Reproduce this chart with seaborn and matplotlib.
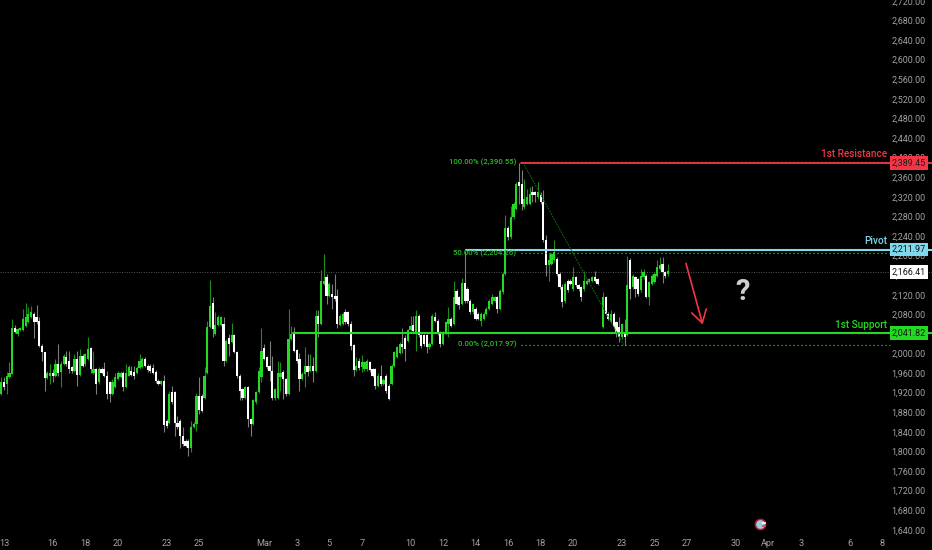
import numpy as np
import matplotlib
matplotlib.use("Agg")
import matplotlib.pyplot as plt
import seaborn as sns

# 4h candles, one nan bar where the chart has a hole
opens = [1917,1941,1938,1951,1958,2053,2040,2047,2047,2057,
         2064,2074,2081,2074,2067,2016,2002,1950,1953,1961,
         1953,1978,1963,1978,1993,1985,1972,1965,1989,1957,
         1995,1978,1989,2011,1961,1968,1941,1968,1968,1955,
         1941,1917,1931,1948,1951,1961,1931,1955,1965,1963,
         1961,1970,1972,1989,1975,1975,1970,1963,1944,1938,
         1944,1863,1859,1921,1921,1859,1863,1832,1822,1822,
         1808,1849,1856,1914,1914,1910,1961,2055,2104,2040,
         2059,2059,2060,1985,2032,2023,2038,2002,1955,1927,
         1910,1931,1866,1856,1900,1921,1951,2012,1992,1975,
         1965,1909,1910,1951,1963,1948,1917,2030,2040,2007,
         1989,1948,1958,1975,1965,1975,1965,2077,2060,2142,
         2156,2118,2122,2118,2118,2059,2060,2084,2084,2060,
         2018,1966,1985,1972,1968,1968,1982,1968,1968,1934,
         1955,1938,1955,1934,1938,1975,1992,2000,2020,2032,
         2026,2047,2059,2043,2077,2037,2037,2037,2013,2020,
         2074,2067,2043,2020,2043,2060,2071,2060,2128,2115,
         2101,2143,2132,2108,2084,2091,2081,2067,2071,2081,
         2091,2101,2108,2115,2091,2125,2163,2257,2237,2278,
         2295,2350,2346,2299,2306,2306,2329,2329,2319,2323,
         2309,2231,2180,2183,2190,2193,2163,2135,2108,2149,
         2149,2132,2156,2139,2135,2132,2142,2146,2149,2156,2152,
         np.nan,
         2054,2115,2081,2064,2081,2064,2054,2033,2040,2037,2190,2135,2156,
         2152,2129,2156,2159,2116,2142,2146,2159,2173,2182,2166,2162]
closes = [1941,1931,1955,1961,2053,2043,2050,2053,2070,2074,
          2081,2084,2064,2064,2016,2002,1950,1961,1961,1955,
          1978,1961,1978,1995,1978,1968,1965,1989,1957,1995,
          1975,1999,2009,1968,1968,1938,1968,1961,1955,1917,
          1917,1941,1951,1961,1961,1931,1961,1972,1957,1955,
          1970,1985,1989,1975,1966,1965,1961,1944,1938,1944,
          1854,1852,1917,1900,1859,1849,1832,1815,1812,1808,
          1849,1856,1914,1885,1883,1955,2055,2096,2050,2059,
          2074,2074,1985,2026,2019,2038,2002,1953,1924,1910,
          1931,1866,1856,1904,1921,1965,2006,1989,1972,1965,
          1909,1927,1961,1961,1948,1917,2030,2040,2006,1985,
          1948,1958,1975,1962,1975,1965,2077,2060,2148,2149,
          2118,2142,2115,2111,2060,2077,2081,2064,2060,2016,
          1966,1975,1970,1982,1982,1985,1966,1955,1934,1955,
          1938,1945,1924,1907,1975,2002,2013,2020,2013,2009,
          2047,2057,2045,2077,2037,2016,2020,2013,2020,2077,
          2067,2040,2020,2043,2064,2071,2057,2115,2101,2098,
          2143,2108,2108,2084,2101,2071,2071,2081,2081,2091,
          2108,2115,2115,2091,2128,2163,2257,2237,2278,2306,
          2346,2343,2306,2316,2319,2326,2323,2323,2329,2309,
          2231,2180,2190,2203,2207,2163,2135,2105,2142,2129,
          2142,2156,2139,2132,2115,2149,2149,2152,2156,2149,2142,
          np.nan,
          2115,2081,2071,2081,2054,2043,2033,2060,2033,2139,2132,2159,2132,
          2122,2159,2166,2116,2146,2159,2163,2176,2180,2166,2159,2169]
highs = [1951,1951,1963,1982,2070,2059,2052,2055,2091,2104,
         2094,2096,2084,2100,2074,2019,2004,1965,1978,1968,
         1989,2019,1985,1999,2006,2006,1975,1999,2006,2009,
         1999,2001,2034,2014,2006,1970,1972,1972,1982,1965,
         1944,1948,1961,1965,1965,1965,1978,1977,1975,1975,
         1975,1998,1992,1992,1978,1978,1978,1966,1947,1946,
         1957,1866,1924,1934,1923,1873,1866,1849,1825,1825,
         1863,1860,1920,1951,1917,1972,2067,2150,2115,2084,
         2078,2077,2075,2030,2040,2062,2040,2005,1958,1930,
         1934,1934,1869,1908,1924,1972,2052,2019,1995,2026,
         1995,1930,1985,1982,1966,1950,2091,2057,2055,2010,
         2000,1962,2013,1998,1998,1992,2089,2089,2171,2203,
         2163,2145,2142,2163,2132,2080,2085,2091,2087,2067,
         2020,1992,1990,1996,1985,1988,1985,1971,1971,1960,
         1977,1950,1958,1937,1978,2005,2016,2023,2052,2037,
         2050,2077,2077,2088,2080,2040,2040,2040,2023,2081,
         2084,2070,2046,2046,2067,2094,2074,2149,2132,2118,
         2154,2210,2136,2111,2104,2094,2084,2084,2084,2094,
         2112,2122,2118,2118,2132,2166,2282,2260,2302,2310,
         2350,2389,2374,2357,2336,2340,2343,2332,2350,2329,
         2333,2241,2203,2206,2232,2196,2166,2142,2145,2152,
         2152,2176,2159,2142,2138,2169,2152,2155,2159,2168,2155,
         np.nan,
         2125,2118,2084,2089,2084,2067,2074,2063,2071,2200,2195,2163,2159,
         2155,2173,2172,2162,2149,2162,2166,2190,2197,2197,2169,2182]
lows = [1916,1925,1917,1949,1958,2041,2036,2045,2045,2055,
        2062,2072,2032,2060,2014,1985,1924,1948,1938,1941,
        1951,1955,1931,1976,1975,1961,1960,1963,1934,1955,
        1972,1975,1987,1960,1958,1917,1938,1958,1952,1907,
        1900,1915,1929,1946,1949,1924,1929,1953,1955,1948,
        1958,1968,1970,1972,1962,1960,1958,1940,1935,1936,
        1839,1848,1857,1896,1832,1846,1808,1812,1809,1791,
        1798,1847,1842,1876,1880,1908,1959,2053,2033,2038,
        2057,2057,1975,1982,1995,2021,2000,1950,1904,1906,
        1908,1849,1832,1853,1897,1919,1941,1986,1969,1944,
        1904,1906,1908,1924,1907,1914,1915,2028,2003,1981,
        1924,1945,1931,1955,1962,1941,1963,2033,2058,2140,
        2101,2116,2091,2108,2052,2056,2058,2061,2056,2007,
        1953,1964,1966,1962,1965,1965,1962,1952,1928,1931,
        1934,1935,1920,1904,1935,1973,1990,1998,2000,1985,
        2023,2045,2042,2005,2034,2012,2016,2000,2010,2018,
        2064,2037,2013,2017,2040,2033,2054,2058,2098,2090,
        2099,2103,2104,2080,2081,2068,2068,2057,2068,2078,
        2088,2098,2105,2082,2088,2122,2160,2232,2234,2275,
        2292,2306,2292,2296,2303,2303,2310,2310,2316,2305,
        2228,2159,2149,2180,2187,2159,2132,2094,2104,2125,
        2139,2128,2136,2128,2108,2128,2139,2143,2146,2146,2139,
        np.nan,
        2052,2078,2068,2062,2051,2033,2023,2030,2018,2035,2112,2132,2115,
        2118,2125,2153,2113,2098,2139,2143,2156,2170,2144,2155,2159]

tick_days = [0,3,5,7,10,12,16,18,20,22,25,27,29,31,33,35,38,40,42,45,47,49,52,54]
tick_names = ["13","16","18","20","23","25","Mar","3","5","7","10","12","14","16",
              "18","20","23","25","27","30","Apr","3","6","8"]
price_ticks = list(range(1640, 2721, 40))

resistance = 2389.45
pivot = 2211.97
support = 2041.82
last_price = 2166.41
fib_prices = [2390.55, 2204.26, 2017.97]
fib_names = ["100.00%", "50.00%", "0.00%"]

GREEN = "#24d924"
DARK_GREEN = "#1c8c1c"
WICK_GREY = "#7d7d7d"
RED = "#f23645"
BLUE = "#7fd8ec"
LABEL = "#a3a3a3"

sns.set_theme(style="dark", rc={"axes.facecolor": "black", "figure.facecolor": "black"})
plt.rcParams["font.family"] = ["Roboto", "DejaVu Sans"]

fig = plt.figure(figsize=(9.32, 5.5), dpi=100)
ax = fig.add_axes([0, 0, 1, 1])

o = np.array(opens, dtype=float)
c = np.array(closes, dtype=float)
h = np.array(highs, dtype=float)
l = np.array(lows, dtype=float)
days = (np.arange(len(o)) - 1) / 6
up = c >= o

ax.vlines(days[up], l[up], h[up], color=DARK_GREEN, lw=0.8, zorder=2)
ax.vlines(days[~up], l[~up], h[~up], color=WICK_GREY, lw=0.8, zorder=2)
ax.bar(days[up], (c - o)[up], bottom=o[up], width=0.135, color=GREEN, lw=0, zorder=3)
ax.bar(days[~up], (o - c)[~up], bottom=c[~up], width=0.135, color="white", lw=0, zorder=3)

# last price dotted line
ax.axhline(last_price, color="#555555", lw=0.7, ls=(0, (1, 1.5)), zorder=1)

# levels
sns.lineplot(x=[17.77, 58], y=[support, support], color=GREEN, lw=1.5, ax=ax, zorder=4)
sns.lineplot(x=[28.4, 58], y=[pivot, pivot], color=BLUE, lw=1.5, ax=ax, zorder=4)
sns.lineplot(x=[31.8, 58], y=[resistance, resistance], color=RED, lw=1.3, ax=ax, zorder=6)

# fib levels and the diagonal
for price, name in zip(fib_prices, fib_names):
    sns.lineplot(x=[31.8, 54.5], y=[price, price], color=GREEN, lw=0.9,
                 ls=(0, (1, 2.2)), ax=ax, zorder=5)
    ax.text(31.5, price, f"{name} ({price:,.2f})", color="#2db82d", fontsize=5.6,
            fontweight="medium", ha="right", va="center", zorder=6)
sns.lineplot(x=[31.9, 38.1], y=[fib_prices[0], fib_prices[2]], color="#146414", lw=0.7,
             ls=(0, (2, 1)), ax=ax, zorder=4)

# level names
ax.text(54.3, resistance + 8, "1st Resistance", color=RED, fontsize=7.2, fontweight="medium",
        ha="right", va="bottom", zorder=6)
ax.text(54.3, pivot + 8, "Pivot", color=BLUE, fontsize=7.2, fontweight="medium",
        ha="right", va="bottom", zorder=6)
ax.text(54.3, support + 7, "1st Support", color=GREEN, fontsize=7.2, fontweight="medium",
        ha="right", va="bottom", zorder=6)

# price tags on the scale
for price, box, txt in [(resistance, RED, "#1a1a1a"), (pivot, BLUE, "#111111"),
                        (support, GREEN, "#111111"), (last_price, "white", "#111111")]:
    ax.text(0.9935, price, f"{price:,.2f}", color=txt, fontsize=6.4, ha="right", va="center",
            transform=ax.get_yaxis_transform(), zorder=8,
            bbox=dict(boxstyle="square,pad=0.26", fc=box, ec="none"))

# arrow and question mark
ax.annotate("", xy=(42.97, 2059), xytext=(41.94, 2184), zorder=7,
            arrowprops=dict(arrowstyle="->,head_length=0.75,head_width=0.45", color=RED, lw=1.2,
                            shrinkA=0, shrinkB=0))
ax.text(45.4, 2126, "?", color="#cfcfcf", fontsize=21, fontweight="bold", ha="center", va="center", zorder=7)

# event flag near the date scale
ax.scatter([46.5], [1651], s=55, fc="#8fd3e0", ec="#c8102e", lw=1.1, zorder=7)
ax.scatter([46.72], [1654], s=10, marker="_", color="white", lw=1.2, zorder=8)
ax.scatter([46.72], [1647], s=12, marker="_", color="#e8404a", lw=1.2, zorder=8)

ax.set_xlim(-0.246, 57.07)
ax.set_ylim(1598.7, 2721.8)
ax.yaxis.tick_right()
ax.set_yticks(price_ticks, labels=[f"{p:,.2f}" for p in price_ticks])
ax.set_xticks(tick_days, labels=tick_names)
ax.tick_params(axis="y", length=0, pad=-4.5, labelsize=6.4, labelcolor=LABEL)
ax.tick_params(axis="x", length=0, pad=-8, labelsize=6.6, labelcolor=LABEL)
for t in ax.get_yticklabels():
    t.set_ha("right")
    t.set_zorder(7)
ax.set_xlabel("")
ax.set_ylabel("")
ax.grid(False)
for s in ax.spines.values():
    s.set_visible(False)

fig.savefig("out.png", dpi=100, facecolor="black")
